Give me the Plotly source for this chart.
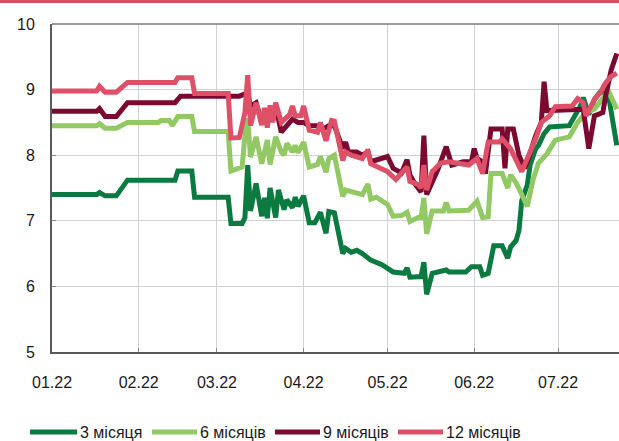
import plotly.graph_objects as go

# Yields by maturity, %, daily points (MM-DD of 2022)
dates_3m = ["01-01", "01-17", "01-18", "01-20", "01-24", "01-28", "02-14", "02-15", "02-20", "02-21",
            "03-05", "03-06", "03-10", "03-11", "03-12", "03-13", "03-15", "03-17", "03-18", "03-19",
            "03-20", "03-22", "03-23", "03-25", "03-26", "03-28", "03-29", "03-30", "04-01", "04-03",
            "04-05", "04-06", "04-07", "04-09", "04-10", "04-12", "04-15", "04-16", "04-18", "04-20",
            "04-22", "04-25", "04-29", "05-03", "05-07", "05-08", "05-09", "05-13", "05-14", "05-15",
            "05-17", "05-22", "05-23", "05-29", "05-31", "06-03", "06-04", "06-06", "06-08", "06-11",
            "06-13", "06-14", "06-16", "06-17", "06-18", "06-20", "06-21", "06-23", "06-24", "06-26",
            "06-28", "07-05", "07-09", "07-10", "07-12", "07-14", "07-16", "07-19", "07-22"]
yield_3m = [7.40, 7.40, 7.43, 7.38, 7.38, 7.62, 7.62, 7.76, 7.76, 7.36,
            7.36, 6.96, 6.96, 7.05, 7.85, 7.15, 7.57, 7.07, 7.35, 7.04,
            7.50, 7.05, 7.47, 7.17, 7.32, 7.20, 7.36, 7.22, 7.38, 6.97,
            6.97, 7.06, 7.13, 6.81, 7.14, 7.12, 6.50, 6.58, 6.52, 6.55,
            6.50, 6.40, 6.33, 6.22, 6.20, 6.28, 6.14, 6.15, 6.37, 5.88,
            6.20, 6.25, 6.22, 6.22, 6.30, 6.30, 6.17, 6.20, 6.62, 6.62,
            6.43, 6.60, 6.70, 6.85, 7.30, 7.55, 7.85, 8.10, 8.15, 8.33,
            8.43, 8.45, 8.75, 8.88, 8.62, 8.85, 8.96, 8.92, 8.15]

dates_6m = ["01-01", "01-17", "01-18", "01-20", "01-24", "01-28", "02-08", "02-09", "02-12", "02-13",
            "02-15", "02-20", "02-21", "03-05", "03-06", "03-10", "03-11", "03-12", "03-13", "03-15",
            "03-17", "03-19", "03-20", "03-22", "03-24", "03-25", "03-26", "03-28", "03-29", "03-30",
            "04-01", "04-03", "04-06", "04-07", "04-09", "04-10", "04-12", "04-15", "04-16", "04-20",
            "04-22", "04-24", "04-25", "04-27", "05-01", "05-03", "05-06", "05-08", "05-09", "05-12",
            "05-13", "05-14", "05-15", "05-17", "05-21", "05-22", "05-23", "05-30", "06-02", "06-04",
            "06-06", "06-07", "06-11", "06-13", "06-14", "06-16", "06-18", "06-20", "06-22", "06-24",
            "06-27", "06-30", "07-05", "07-08", "07-11", "07-14", "07-19", "07-22"]
yield_6m = [8.45, 8.45, 8.48, 8.41, 8.41, 8.50, 8.50, 8.53, 8.53, 8.45,
            8.59, 8.59, 8.36, 8.36, 7.76, 7.82, 8.30, 8.56, 7.97, 8.28,
            7.87, 8.23, 7.86, 8.28, 8.05, 8.00, 8.18, 8.05, 8.15, 8.04,
            8.20, 7.82, 7.86, 7.98, 7.74, 7.95, 8.00, 7.37, 7.47, 7.43,
            7.40, 7.56, 7.33, 7.36, 7.25, 7.07, 7.08, 7.13, 6.99, 7.05,
            7.05, 7.35, 6.80, 7.15, 7.15, 7.28, 7.15, 7.16, 7.30, 7.05,
            7.06, 7.72, 7.72, 7.50, 7.70, 7.58, 7.40, 7.22, 7.62, 7.88,
            8.02, 8.23, 8.28, 8.50, 8.65, 8.70, 8.98, 8.70]

dates_9m = ["01-01", "01-17", "01-18", "01-20", "01-24", "01-28", "02-14", "02-16", "03-09", "03-11",
            "03-12", "03-13", "03-15", "03-17", "03-19", "03-20", "03-22", "03-24", "03-26", "03-28",
            "03-30", "04-01", "04-03", "04-06", "04-08", "04-10", "04-12", "04-15", "04-16", "04-17",
            "04-20", "04-22", "04-24", "04-25", "05-01", "05-03", "05-06", "05-08", "05-09", "05-11",
            "05-13", "05-14", "05-15", "05-17", "05-19", "05-22", "05-24", "05-28", "05-31", "06-01",
            "06-02", "06-04", "06-05", "06-07", "06-11", "06-12", "06-13", "06-15", "06-17", "06-19",
            "06-20", "06-23", "06-25", "06-26", "06-27", "07-10", "07-12", "07-14", "07-17", "07-18",
            "07-20", "07-22"]
yield_9m = [8.67, 8.67, 8.71, 8.59, 8.59, 8.80, 8.80, 8.90, 8.90, 8.93,
            8.95, 8.75, 8.80, 8.50, 8.65, 8.55, 8.75, 8.35, 8.45, 8.55,
            8.50, 8.50, 8.45, 8.45, 8.40, 8.45, 8.45, 8.10, 8.20, 8.05,
            8.05, 8.00, 8.05, 7.90, 7.98, 7.80, 7.73, 7.93, 7.70, 7.55,
            7.44, 8.30, 7.40, 7.60, 7.78, 8.13, 7.85, 7.90, 7.90, 8.10,
            7.95, 7.90, 7.72, 8.40, 8.40, 7.80, 8.40, 8.40, 8.00, 7.80,
            7.90, 8.30, 8.50, 9.12, 8.68, 8.70, 8.10, 8.60, 8.65, 8.90,
            9.30, 9.55]

dates_12m = ["01-01", "01-17", "01-18", "01-20", "01-24", "01-28", "02-14", "02-15", "02-20", "02-21",
             "03-05", "03-06", "03-09", "03-11", "03-12", "03-13", "03-15", "03-17", "03-18", "03-19",
             "03-20", "03-21", "03-22", "03-24", "03-27", "03-28", "03-29", "03-31", "04-01", "04-03",
             "04-06", "04-07", "04-09", "04-11", "04-12", "04-15", "04-16", "04-18", "04-22", "04-24",
             "04-25", "05-01", "05-04", "05-08", "05-09", "05-12", "05-13", "05-14", "05-15", "05-17",
             "05-20", "05-23", "05-30", "06-02", "06-04", "06-06", "06-10", "06-11", "06-14", "06-18",
             "06-20", "06-23", "06-25", "06-28", "06-30", "07-06", "07-08", "07-10", "07-11", "07-14",
             "07-16", "07-18", "07-20", "07-22"]
yield_12m = [8.98, 8.98, 9.05, 8.96, 8.96, 9.11, 9.11, 9.18, 9.18, 8.94,
             8.94, 8.26, 8.27, 8.65, 9.22, 8.45, 8.80, 8.46, 8.72, 8.42,
             8.76, 8.50, 8.80, 8.50, 8.62, 8.75, 8.60, 8.60, 8.75, 8.38,
             8.35, 8.50, 8.22, 8.53, 8.52, 7.92, 8.05, 8.00, 7.95, 8.08,
             7.87, 7.75, 7.63, 7.82, 7.60, 7.55, 7.50, 7.85, 7.47, 7.75,
             7.88, 7.90, 7.85, 7.95, 7.72, 8.20, 8.20, 8.25, 8.10, 7.75,
             7.95, 8.25, 8.50, 8.60, 8.74, 8.75, 8.86, 8.80, 8.60, 8.85,
             8.95, 9.10, 9.20, 9.25]

series_names = ["3 місяця", "6 місяців", "9 місяців", "12 місяців"]
series_dates = [dates_3m, dates_6m, dates_9m, dates_12m]
series_values = [yield_3m, yield_6m, yield_9m, yield_12m]
series_colors = ["#0A7A40", "#92C965", "#7B0A30", "#DE4F68"]

y_ticks = [5, 6, 7, 8, 9, 10]

W, H = 619, 441
ML, MR, MT, MB = 52, 0, 24, 89
PW, PH = W - ML - MR, H - MT - MB

fig = go.Figure()
for name, d, v, c in zip(series_names, series_dates, series_values, series_colors):
    fig.add_trace(go.Scatter(
        x=["2022-" + s for s in d], y=v, name=name, mode="lines",
        line=dict(color=c, width=5), showlegend=False,
    ))

font = dict(family="Liberation Sans, Arial, sans-serif", size=16, color="#1a1a1a")

# Legend drawn as swatch lines with text labels below the plot
legend_px = [(30, 77), (152, 197), (275, 320), (398, 443)]
legend_y = 432
shapes = []
annotations = []
for (x0, x1), name, c in zip(legend_px, series_names, series_colors):
    yp = (H - MB - legend_y) / PH
    shapes.append(dict(type="line", xref="paper", yref="paper",
                       x0=(x0 - ML) / PW, x1=(x1 - ML) / PW, y0=yp, y1=yp,
                       line=dict(color=c, width=5)))
    annotations.append(dict(text=name, xref="paper", yref="paper",
                            x=(x1 + 1 - ML) / PW, y=yp, xanchor="left", yanchor="middle",
                            showarrow=False, font=font))

# Accent rule across the top of the page
top_y = (H - MB - 1.5) / PH
shapes.append(dict(type="line", xref="paper", yref="paper",
                   x0=-ML / PW, x1=1.0, y0=top_y, y1=top_y,
                   line=dict(color="#DB4C65", width=3)))

fig.update_layout(
    width=W, height=H,
    margin=dict(l=ML, r=MR, t=MT, b=MB),
    paper_bgcolor="white", plot_bgcolor="white",
    font=font,
    shapes=shapes,
    annotations=annotations,
    xaxis=dict(
        type="date",
        range=["2022-01-01", "2022-07-22 19:00"],
        tick0="2022-01-01", dtick="M1", tickformat="%m.%y",
        showgrid=True, gridcolor="#CFD3D8", gridwidth=1,
        showline=True, linecolor="#5a5a5a", linewidth=2,
        mirror=False,
        ticks="inside", ticklen=4, tickcolor="#8a8a8a",
        ticklabelstandoff=15,
        tickfont=font,
        zeroline=False,
    ),
    yaxis=dict(
        range=[5, 10], tickvals=y_ticks,
        showgrid=True, gridcolor="#CFD3D8", gridwidth=1,
        showline=True, linecolor="#5a5a5a", linewidth=2,
        ticks="inside", ticklen=4, tickcolor="#8a8a8a",
        ticklabelstandoff=12,
        tickfont=font,
        zeroline=False,
    ),
)

# Thin frame line along the top of the plotting area
fig.add_shape(type="line", xref="paper", yref="paper", x0=0, x1=1, y0=1, y1=1,
              line=dict(color="#7a7a7a", width=1.5))

fig.write_html("out.html")
